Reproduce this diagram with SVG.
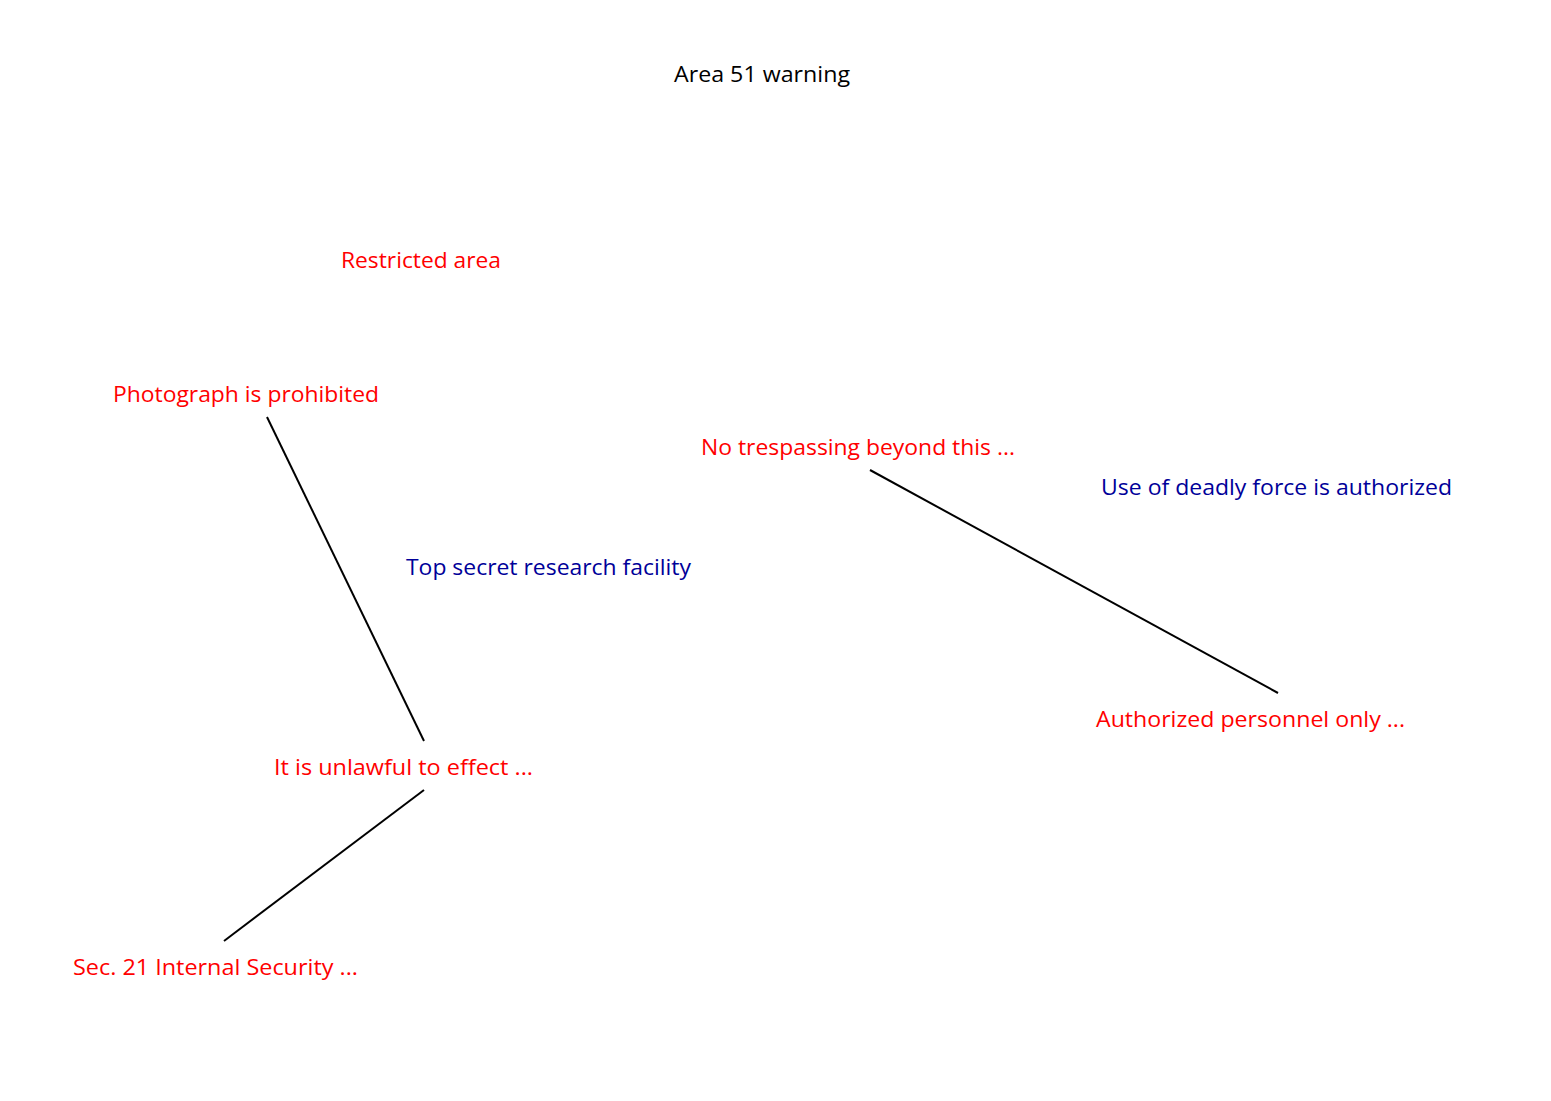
<svg xmlns="http://www.w3.org/2000/svg" width="1551" height="1101" viewBox="0 0 1551 1101">
<style>
text{font-family:"Open Sans","Noto Sans","Liberation Sans",sans-serif;font-size:22px}
.t{fill:#000000}
.r{fill:#FF0000}
.b{fill:#000099}
.c line{stroke:#000000;stroke-width:2}
</style>
<rect width="1551" height="1101" fill="#FFFFFF"/>
<g id="connectors" class="c">
<line x1="267" y1="417" x2="424" y2="741"/>
<line x1="870" y1="470" x2="1278" y2="693"/>
<line x1="424" y1="790" x2="224" y2="941"/>
</g>
<g id="title"><text class="t" x="674" y="82" textLength="176" lengthAdjust="spacingAndGlyphs">Area 51 warning</text></g>
<g id="n-restricted"><text class="r" x="341" y="268" textLength="160" lengthAdjust="spacingAndGlyphs">Restricted area</text></g>
<g id="n-photograph"><text class="r" x="113" y="402" textLength="266" lengthAdjust="spacingAndGlyphs">Photograph is prohibited</text></g>
<g id="n-notrespassing"><text class="r" x="701" y="455" textLength="314" lengthAdjust="spacingAndGlyphs">No trespassing beyond this ...</text></g>
<g id="n-deadlyforce"><text class="b" x="1101" y="495" textLength="351" lengthAdjust="spacingAndGlyphs">Use of deadly force is authorized</text></g>
<g id="n-topsecret"><text class="b" x="406" y="575" textLength="285" lengthAdjust="spacingAndGlyphs">Top secret research facility</text></g>
<g id="n-authorized"><text class="r" x="1096" y="727" textLength="309" lengthAdjust="spacingAndGlyphs">Authorized personnel only ...</text></g>
<g id="n-unlawful"><text class="r" x="274" y="775" textLength="259" lengthAdjust="spacingAndGlyphs">It is unlawful to effect ...</text></g>
<g id="n-sec21"><text class="r" x="73" y="975" textLength="285" lengthAdjust="spacingAndGlyphs">Sec. 21 Internal Security ...</text></g>
</svg>
